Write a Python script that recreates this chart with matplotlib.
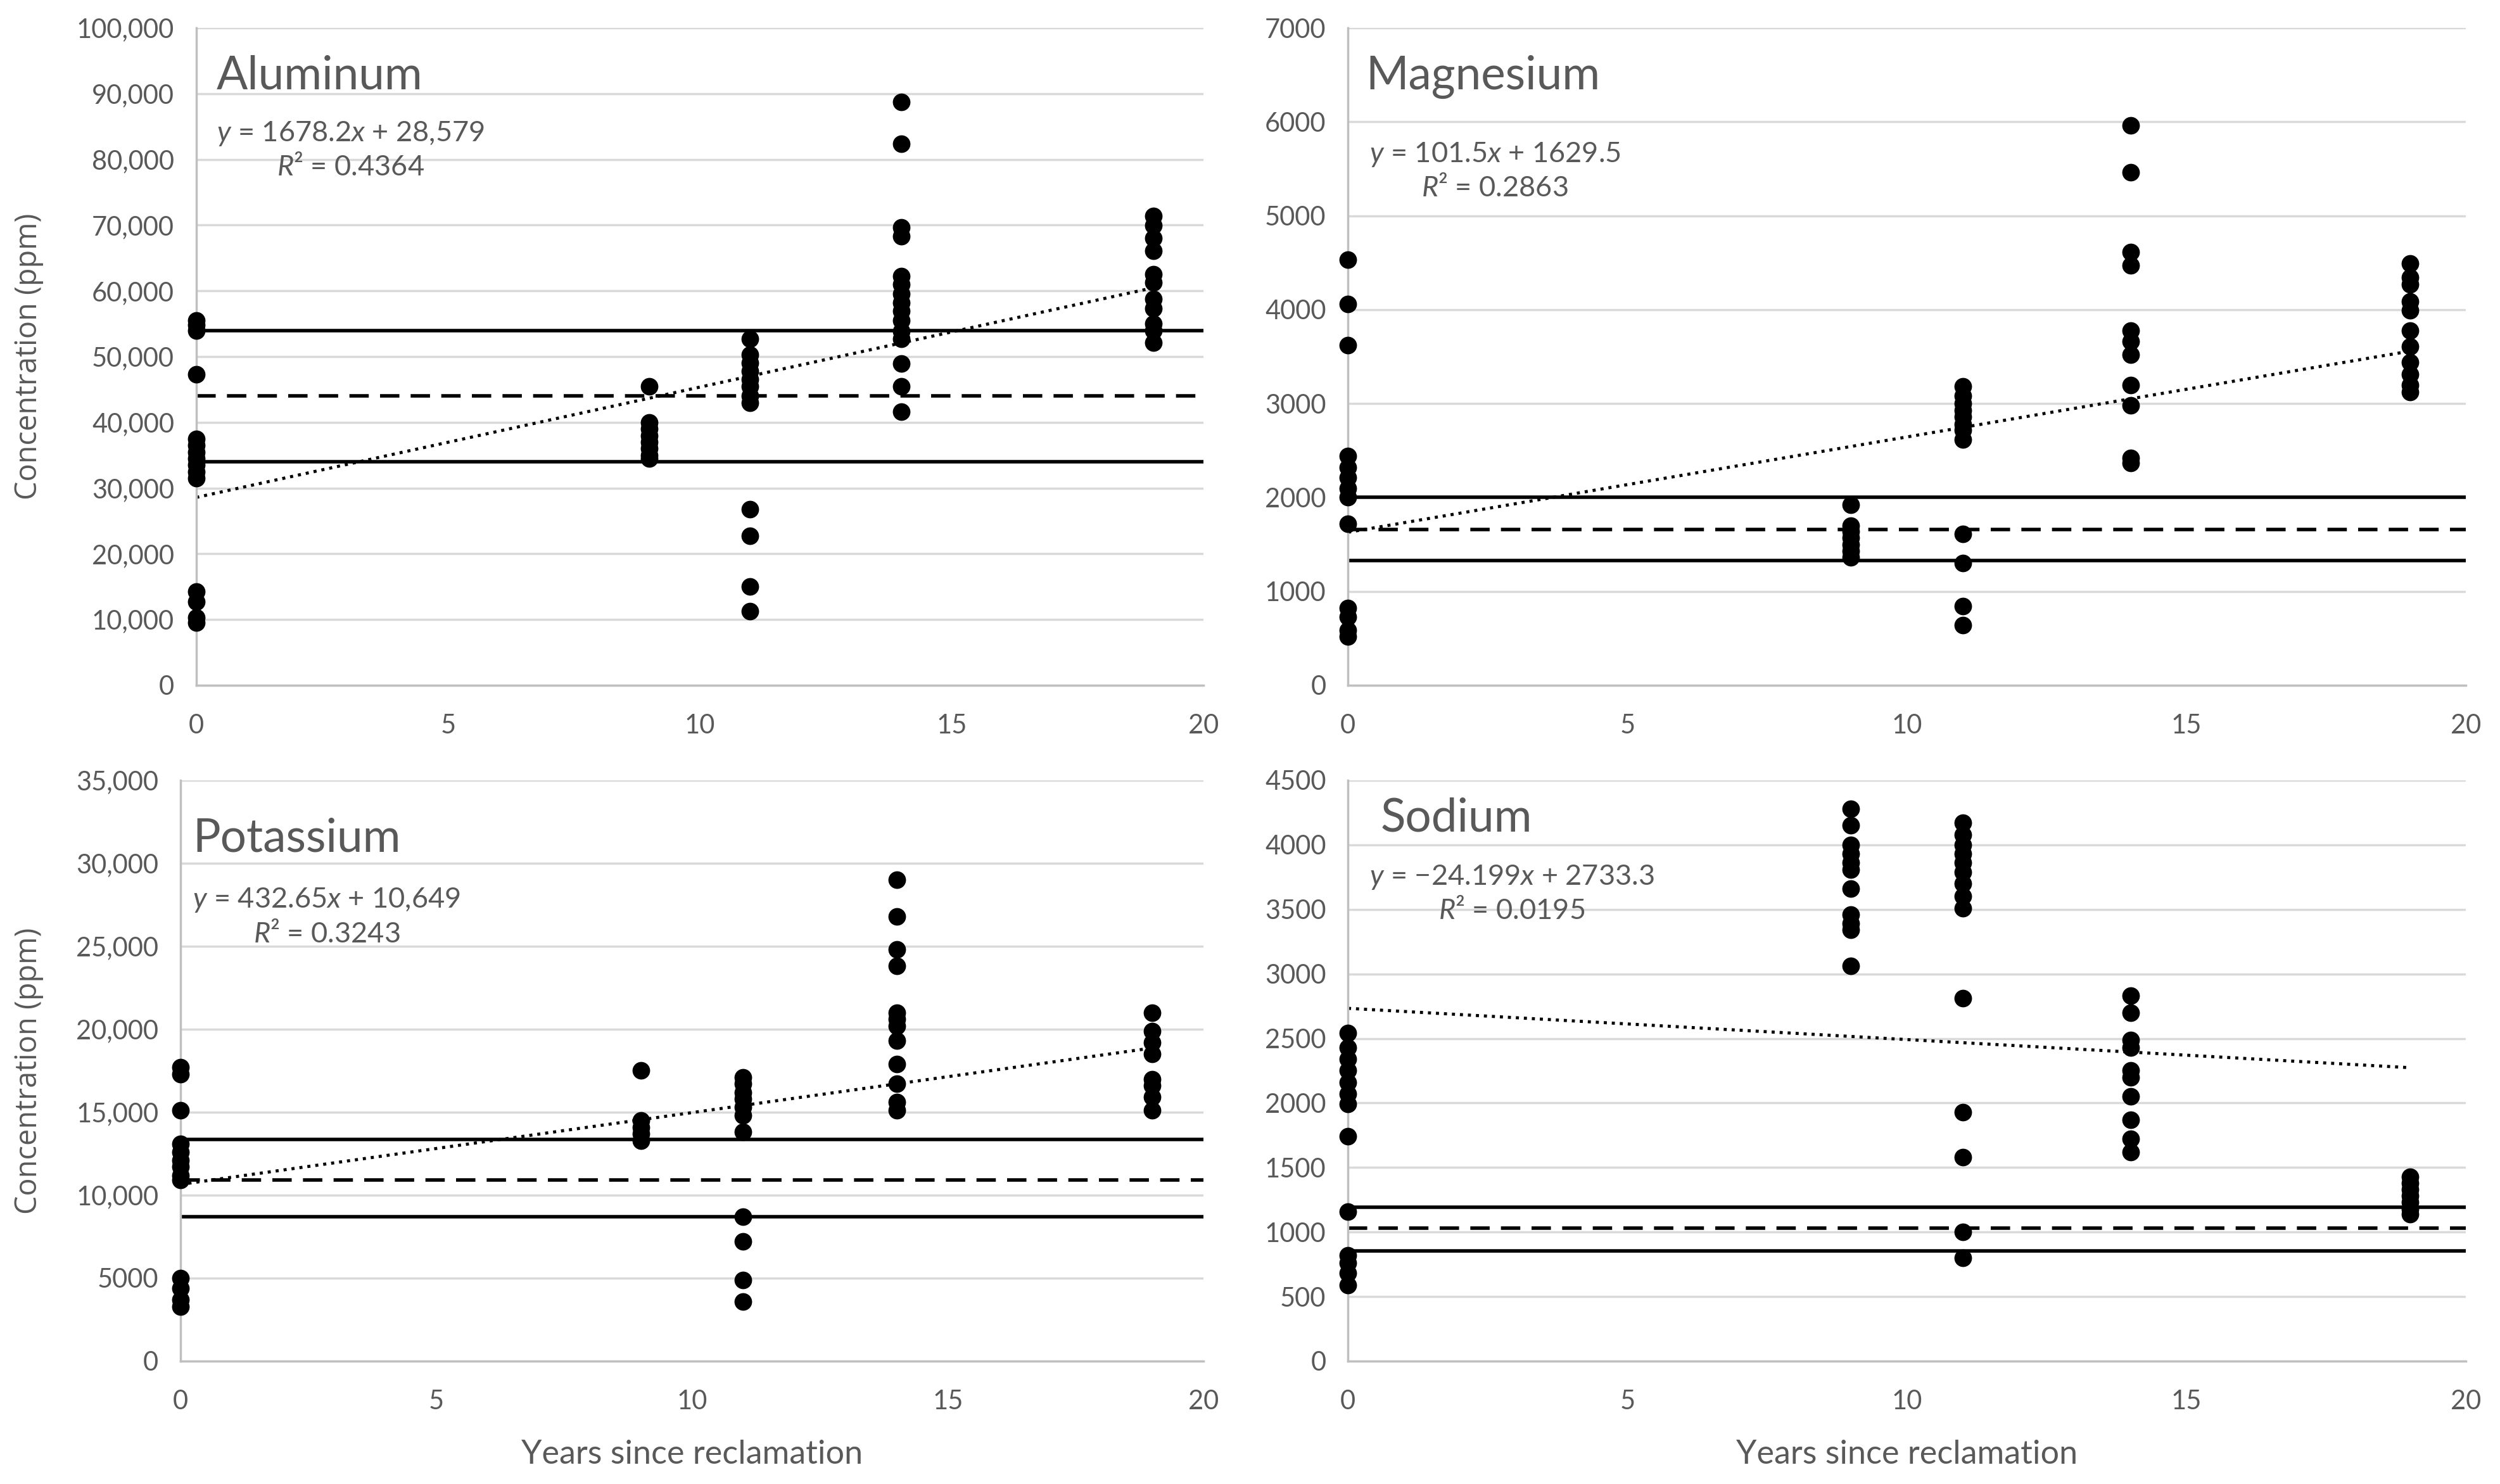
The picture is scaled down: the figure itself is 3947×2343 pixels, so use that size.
import numpy as np
import matplotlib
matplotlib.use("Agg")
import matplotlib.pyplot as plt

plt.rcParams['font.family'] = ['Lato', 'DejaVu Sans']
plt.rcParams['mathtext.fontset'] = 'custom'
plt.rcParams['mathtext.it'] = 'Lato:italic'
plt.rcParams['mathtext.rm'] = 'Lato'

years = [0, 9, 11, 14, 19]
xticks = [0, 5, 10, 15, 20]

# Aluminum
al_pts = {
    0: [55500, 54800, 54000, 47300, 37500, 36500, 35500, 34500, 33500, 32500, 31500,
        14300, 12700, 10300, 9500],
    9: [45500, 40000, 39000, 38000, 37000, 36000, 35000, 34500],
    11: [52700, 50300, 49000, 47800, 46500, 45500, 44000, 43000, 26800, 22700, 15000, 11300],
    14: [88700, 82400, 69700, 68300, 62200, 61000, 59500, 58200, 56900, 55500, 53900,
         52700, 48900, 45500, 41600],
    19: [71400, 69900, 68000, 66100, 62500, 61300, 58800, 57300, 55000, 54000, 52100],
}
al_ref = [54000, 44000, 34000]
al_fit = (1678.2, 28579)
al_eq = ["$y$ = 1678.2$x$ + 28,579", "$R$² = 0.4364"]
al_yticks = [0, 10000, 20000, 30000, 40000, 50000, 60000, 70000, 80000, 90000, 100000]
al_ylabels = ["0", "10,000", "20,000", "30,000", "40,000", "50,000", "60,000",
              "70,000", "80,000", "90,000", "100,000"]

# Magnesium
mg_pts = {
    0: [4530, 4060, 3620, 2440, 2320, 2210, 2100, 2000, 1720, 820, 730, 590, 520],
    9: [1920, 1700, 1640, 1570, 1500, 1430, 1360],
    11: [3180, 3080, 3000, 2930, 2860, 2780, 2720, 2620, 1610, 1300, 840, 640],
    14: [5960, 5460, 4610, 4470, 3780, 3660, 3520, 3200, 2980, 2420, 2370],
    19: [4490, 4340, 4270, 4090, 3990, 3780, 3610, 3440, 3310, 3200, 3120],
}
mg_ref = [2000, 1660, 1330]
mg_fit = (101.5, 1629.5)
mg_eq = ["$y$ = 101.5$x$ + 1629.5", "$R$² = 0.2863"]
mg_yticks = [0, 1000, 2000, 3000, 4000, 5000, 6000, 7000]
mg_ylabels = ["0", "1000", "2000", "3000", "4000", "5000", "6000", "7000"]

# Potassium
k_pts = {
    0: [17700, 17300, 15100, 13100, 12600, 12100, 11700, 11200, 10900, 5000, 4400, 3700, 3300],
    9: [17500, 14500, 14100, 13700, 13300],
    11: [17100, 16700, 16200, 15800, 15300, 14800, 13800, 8700, 7200, 4900, 3600],
    14: [29000, 26800, 24800, 23800, 21000, 20600, 20200, 19300, 17900, 16700, 15600, 15100],
    19: [21000, 19900, 19200, 18500, 17000, 16600, 15900, 15100],
}
k_ref = [13370, 10930, 8690]
k_fit = (432.65, 10649)
k_eq = ["$y$ = 432.65$x$ + 10,649", "$R$² = 0.3243"]
k_yticks = [0, 5000, 10000, 15000, 20000, 25000, 30000, 35000]
k_ylabels = ["0", "5000", "10,000", "15,000", "20,000", "25,000", "30,000", "35,000"]

# Sodium
na_pts = {
    0: [2540, 2430, 2340, 2250, 2160, 2070, 1990, 1740, 1160, 820, 760, 680, 590],
    9: [4280, 4150, 4000, 3930, 3860, 3810, 3660, 3460, 3390, 3340, 3060],
    11: [4170, 4080, 4000, 3930, 3860, 3790, 3700, 3600, 3510, 2810, 1930, 1580, 1000, 800],
    14: [2830, 2700, 2490, 2430, 2250, 2200, 2050, 1870, 1720, 1620],
    19: [1430, 1380, 1330, 1280, 1230, 1180, 1140],
}
na_ref = [1190, 1030, 855]
na_fit = (-24.199, 2733.3)
na_eq = ["$y$ = −24.199$x$ + 2733.3", "$R$² = 0.0195"]
na_yticks = [0, 500, 1000, 1500, 2000, 2500, 3000, 3500, 4000, 4500]
na_ylabels = ["0", "500", "1000", "1500", "2000", "2500", "3000", "3500", "4000", "4500"]

grey = '#595959'

panels = [
    # name, pts, ref, fit, eq, yticks, ylabels, axes rect, title pos, eq pos
    ("Aluminum", al_pts, al_ref, al_fit, al_eq, al_yticks, al_ylabels,
     [0.0785, 0.5382, 0.4029, 0.4430], (0.02, 0.927), (0.02, 0.814)),
    ("Magnesium", mg_pts, mg_ref, mg_fit, mg_eq, mg_yticks, mg_ylabels,
     [0.5392, 0.5382, 0.4471, 0.4430], (0.016, 0.925), (0.019, 0.782)),
    ("Potassium", k_pts, k_ref, k_fit, k_eq, k_yticks, k_ylabels,
     [0.0722, 0.0828, 0.4092, 0.3914], (0.012, 0.90), (0.012, 0.765)),
    ("Sodium", na_pts, na_ref, na_fit, na_eq, na_yticks, na_ylabels,
     [0.5392, 0.0828, 0.4471, 0.3914], (0.029, 0.935), (0.019, 0.805)),
]

fig = plt.figure(figsize=(15.788, 9.372), dpi=250)

for i, (name, pts, ref, fit, eq, yt, yl, rect, tpos, epos) in enumerate(panels):
    ax = fig.add_axes(rect)
    ax.set_xlim(0, 20)
    ax.set_ylim(yt[0], yt[-1])
    ax.set_xticks(xticks)
    ax.set_yticks(yt)
    ax.set_yticklabels(yl)
    ax.tick_params(length=0, labelsize=12, colors=grey)
    ax.tick_params(axis='y', pad=10)
    ax.tick_params(axis='x', pad=13)
    ax.grid(axis='y', color='#d9d9d9', lw=1.0)
    ax.set_axisbelow(True)
    for s in ['top', 'right']:
        ax.spines[s].set_visible(False)
    for s in ['left', 'bottom']:
        ax.spines[s].set_color('#bfbfbf')
        ax.spines[s].set_linewidth(1.0)

    # reference lines
    ax.axhline(ref[0], color='black', lw=1.6, zorder=2)
    ax.axhline(ref[1], color='black', lw=1.6, ls=(0, (5.5, 3.2)), zorder=2)
    ax.axhline(ref[2], color='black', lw=1.6, zorder=2)

    # trendline
    tx = np.array([years[0], years[-1]])
    ax.plot(tx, fit[0] * tx + fit[1], color='black', lw=1.4, ls=(0, (1, 1.6)), zorder=2)

    # points
    for yr in years:
        vals = pts[yr]
        ax.plot([yr] * len(vals), vals, 'o', color='black', ms=7, mec='black',
                clip_on=False, zorder=4)

    ax.text(tpos[0], tpos[1], name, transform=ax.transAxes, fontsize=21,
            color=grey, ha='left', va='center')
    ax.text(epos[0], epos[1], eq[0] + "\n" + eq[1], transform=ax.transAxes,
            fontsize=13, color=grey, ha='left', va='center',
            multialignment='center', linespacing=1.3)

    if i % 2 == 0:
        ax.set_ylabel("Concentration (ppm)", fontsize=13.5, color=grey,
                      family=['Open Sans', 'DejaVu Sans'])
        ax.yaxis.set_label_coords(0.0175, rect[1] + rect[3] / 2, transform=fig.transFigure)
    if i >= 2:
        ax.set_xlabel("Years since reclamation", fontsize=15, color=grey)
        ax.xaxis.set_label_coords(rect[0] + rect[2] / 2, 0.030, transform=fig.transFigure)

fig.savefig("out.png", dpi=250, facecolor='white')
